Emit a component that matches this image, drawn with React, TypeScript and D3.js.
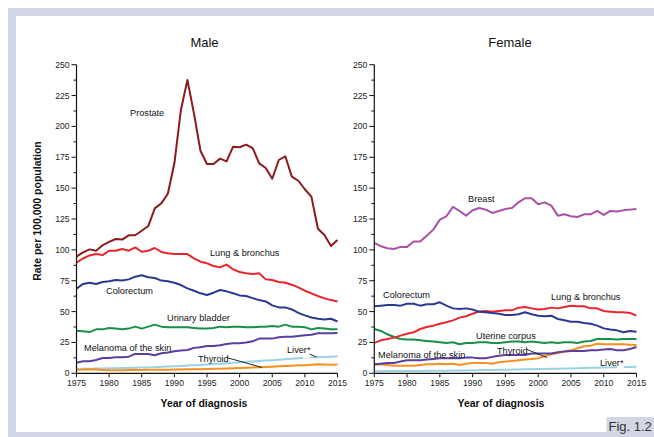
import React from "react";
import * as d3 from "d3";

const years = d3.range(1975, 2016);
const xTickYears = [1975, 1980, 1985, 1990, 1995, 2000, 2005, 2010, 2015];
const yTicks = [0, 25, 50, 75, 100, 125, 150, 175, 200, 225, 250];

const maleProstate = [94.5, 98, 100.4, 99.3, 103.7, 106.4, 108.8, 108.3, 111.8, 111.8, 115.5, 119.3, 133.6, 137.7, 145.5, 170.1, 213.3, 237.6, 210.6, 180.3, 169.6, 169.6, 173.9, 171.7, 183.6, 183.1, 185.2, 182.5, 170.1, 166.3, 157.6, 172.8, 175.8, 159.3, 156.0, 149.1, 143.1, 117.1, 112.0, 103.1, 108.0];
const maleLung = [89.6, 93, 95.5, 96.6, 95.8, 99.3, 99.3, 100.7, 99.3, 102.0, 98.5, 99.3, 101.5, 98.3, 97.2, 96.6, 96.6, 96.6, 93.1, 90.4, 89.1, 86.9, 85.8, 88.0, 84.2, 82.1, 81.0, 80.4, 81.0, 76.1, 75.6, 74.0, 73.4, 71.8, 69.6, 66.9, 64.7, 62.6, 60.7, 59.3, 58.2];
const maleColorectum = [68.5, 72.4, 73.4, 72.4, 74.0, 74.5, 75.6, 75.1, 76.1, 78.3, 79.4, 77.8, 77.2, 75.1, 74.5, 73.4, 71.5, 68.8, 66.9, 64.8, 63.4, 65.3, 67.5, 66.4, 64.8, 63.1, 62.6, 60.9, 59.3, 58.2, 55.0, 53.4, 53.4, 51.7, 49.0, 46.9, 45.2, 44.2, 43.6, 44.2, 42.0];
const maleBladder = [34.5, 34.0, 33.4, 35.6, 35.6, 36.7, 36.2, 35.6, 36.2, 37.8, 36.2, 37.8, 39.4, 37.8, 37.3, 37.3, 37.3, 37.3, 36.7, 36.2, 36.2, 36.7, 37.8, 37.3, 37.8, 37.8, 37.3, 37.3, 37.8, 37.8, 38.3, 37.8, 39.4, 37.8, 37.8, 37.3, 35.6, 36.7, 36.2, 35.6, 35.6];
const maleMelanoma = [8.6, 9.7, 9.7, 10.8, 12.4, 12.4, 13.0, 13.0, 13.5, 15.7, 15.7, 15.7, 14.6, 16.2, 16.8, 17.8, 18.4, 18.9, 20.6, 21.1, 22.2, 22.2, 22.7, 23.8, 24.3, 24.3, 24.9, 25.9, 28.1, 28.1, 28.1, 29.2, 29.7, 29.7, 30.3, 30.8, 31.3, 32.4, 32.4, 32.4, 32.6];
const maleLiver = [3.5, 3.6, 3.7, 3.8, 3.9, 4.0, 4.1, 4.2, 4.3, 4.5, 4.8, 4.8, 5.0, 5.3, 5.5, 5.8, 6.0, 6.3, 6.5, 6.8, 7.2, 7.5, 7.8, 8.2, 8.5, 9.0, 9.3, 9.6, 9.9, 10.3, 10.6, 11.0, 11.4, 11.8, 12.2, 12.6, 12.9, 13.1, 13.3, 13.5, 13.8];
const maleThyroid = [2.9, 3.0, 3.3, 3.0, 2.7, 2.4, 2.4, 2.5, 2.7, 2.8, 2.7, 2.9, 2.9, 2.8, 2.9, 3.0, 3.1, 3.2, 3.3, 3.3, 3.5, 3.6, 3.7, 3.9, 4.1, 4.3, 4.5, 4.7, 4.9, 5.2, 5.4, 5.7, 6.0, 6.2, 6.5, 6.5, 7.0, 7.3, 7.2, 7.0, 7.1];

const femaleBreast = [105.6, 102.9, 101.3, 100.7, 102.4, 102.4, 106.7, 106.7, 111.5, 116.4, 124.5, 127.2, 134.8, 131.5, 127.7, 132.1, 133.9, 132.6, 129.9, 131.5, 133.1, 133.9, 138.5, 141.8, 141.8, 136.9, 138.5, 135.8, 127.7, 128.8, 127.2, 126.6, 128.8, 128.8, 131.5, 128.3, 131.5, 131.0, 132.0, 132.6, 133.1];
const femaleColorectum = [54.3, 54.8, 55.4, 55.4, 54.8, 56.4, 56.4, 54.8, 55.9, 55.9, 57.5, 54.8, 52.6, 52.1, 52.6, 51.6, 49.9, 49.4, 48.9, 48.3, 47.3, 47.3, 47.8, 49.4, 47.8, 46.7, 46.2, 46.7, 44.0, 42.9, 41.8, 41.8, 40.8, 40.2, 38.6, 36.4, 35.4, 34.8, 33.2, 34.3, 33.7];
const femaleLung = [24.6, 26.7, 27.8, 28.9, 30.5, 32.1, 33.2, 35.9, 37.5, 38.6, 40.2, 41.3, 42.9, 45.1, 46.2, 48.3, 50.0, 50.5, 49.9, 50.5, 51.0, 51.0, 53.2, 53.7, 52.6, 51.6, 52.1, 53.2, 52.6, 53.7, 54.8, 54.3, 54.3, 52.6, 52.6, 50.5, 49.9, 49.4, 49.4, 48.9, 46.7];
const femaleUterine = [35.9, 34.3, 31.6, 29.4, 27.8, 27.3, 27.3, 26.7, 26.2, 25.7, 25.1, 24.6, 25.1, 23.5, 24.6, 24.6, 25.1, 25.1, 24.6, 24.6, 25.1, 25.7, 25.7, 25.1, 25.7, 25.1, 24.6, 25.1, 24.6, 25.1, 25.1, 24.6, 25.7, 26.2, 27.8, 27.8, 27.8, 27.3, 27.8, 27.8, 27.8];
const femaleMelanoma = [7.3, 7.8, 8.4, 8.4, 9.5, 10.5, 10.5, 10.5, 11.1, 11.6, 12.2, 12.2, 12.2, 12.2, 12.7, 12.7, 12.2, 12.2, 13.3, 14.3, 14.9, 14.9, 14.9, 14.9, 16.0, 16.0, 16.0, 16.0, 17.0, 17.6, 18.1, 18.1, 18.1, 18.6, 18.6, 19.2, 19.7, 18.6, 18.6, 19.7, 21.3];
const femaleThyroid = [7.0, 7.3, 6.8, 6.2, 6.2, 6.2, 6.2, 6.8, 7.3, 7.3, 7.8, 7.3, 7.8, 6.8, 7.8, 8.4, 8.4, 8.4, 7.8, 8.9, 9.5, 10.0, 10.5, 11.1, 11.6, 12.2, 13.8, 15.4, 16.5, 17.6, 18.6, 20.3, 21.9, 22.4, 24.0, 23.5, 23.5, 23.5, 23.5, 23.2, 22.9];
const femaleLiver = [1.7, 1.7, 1.8, 1.8, 1.8, 1.9, 1.9, 1.9, 2.0, 2.0, 2.1, 2.1, 2.2, 2.3, 2.3, 2.4, 2.5, 2.6, 2.7, 2.8, 2.9, 3.0, 3.1, 3.2, 3.3, 3.4, 3.5, 3.6, 3.7, 3.8, 3.9, 4.1, 4.2, 4.4, 4.5, 4.7, 4.8, 5.0, 5.1, 5.2, 5.3];

const C = {
  prostate: "#8b1a1e",
  lung: "#e8262b",
  colorectum: "#2b3990",
  green: "#17904a",
  melanoma: "#5b3f9e",
  liver: "#98d2e6",
  thyroid: "#f7901e",
  breast: "#a752a8",
};

const FONT = "'Liberation Sans', Arial, Helvetica, sans-serif";
const FRAME = "#d3d6e5";

type Series = { values: number[]; color: string };
type Label = { text: string; x: number; y: number };
type Leader = [number, number, number, number];

type Panel = {
  title: string;
  x0: number;
  x1: number;
  titleX: number;
  xLabelX: number;
  series: Series[];
  labels: Label[];
  leaders: Leader[];
  gaps: [number, number, number][];
};

const panels: Panel[] = [
  {
    title: "Male",
    x0: 76.5,
    x1: 337.5,
    titleX: 204.5,
    xLabelX: 204,
    series: [
      { values: maleLiver, color: C.liver },
      { values: maleThyroid, color: C.thyroid },
      { values: maleMelanoma, color: C.melanoma },
      { values: maleBladder, color: C.green },
      { values: maleColorectum, color: C.colorectum },
      { values: maleLung, color: C.lung },
      { values: maleProstate, color: C.prostate },
    ],
    labels: [
      { text: "Prostate", x: 130, y: 112.3 },
      { text: "Lung & bronchus", x: 210, y: 252.3 },
      { text: "Colorectum", x: 106, y: 291 },
      { text: "Urinary bladder", x: 167, y: 318 },
      { text: "Melanoma of the skin", x: 84, y: 347.7 },
      { text: "Thyroid", x: 198, y: 358.3 },
      { text: "Liver*", x: 287, y: 349.3 },
    ],
    leaders: [
      [226.5, 357.5, 262, 367.5],
      [309.5, 354, 316.5, 357],
    ],
    gaps: [[303, 310, 356.5]],
  },
  {
    title: "Female",
    x0: 374.3,
    x1: 636.5,
    titleX: 510,
    xLabelX: 501,
    series: [
      { values: femaleLiver, color: C.liver },
      { values: femaleThyroid, color: C.thyroid },
      { values: femaleMelanoma, color: C.melanoma },
      { values: femaleUterine, color: C.green },
      { values: femaleLung, color: C.lung },
      { values: femaleColorectum, color: C.colorectum },
      { values: femaleBreast, color: C.breast },
    ],
    labels: [
      { text: "Breast", x: 468, y: 198.3 },
      { text: "Colorectum", x: 383, y: 295 },
      { text: "Lung & bronchus", x: 551, y: 296.7 },
      { text: "Uterine corpus", x: 476, y: 335.7 },
      { text: "Melanoma of the skin", x: 378, y: 354.5 },
      { text: "Thyroid", x: 497, y: 350.7 },
      { text: "Liver*", x: 600, y: 362.3 },
    ],
    leaders: [[527, 349.5, 547, 357.5]],
    gaps: [[617, 624, 366.5]],
  },
];

const Y_TOP = 64.7;
const Y_BOT = 373.3;

function PanelView({ p }: { p: Panel }) {
  const x = d3.scaleLinear().domain([1975, 2015]).range([p.x0, p.x1]);
  const y = d3.scaleLinear().domain([0, 250]).range([Y_BOT, Y_TOP]);
  const line = d3
    .line<number>()
    .x((_, i) => x(years[i]))
    .y((v) => y(v));
  const minor = d3.range(12.5, 250, 25);
  return (
    <g>
      <text x={p.titleX} y={46.5} fontSize={13} textAnchor="middle" fill="#111" fontFamily={FONT}>
        {p.title}
      </text>
      {p.series.map((s, i) => (
        <path key={i} d={line(s.values) || ""} fill="none" stroke={s.color} strokeWidth={2} strokeLinejoin="round" />
      ))}
      {p.gaps.map((g, i) => (
        <line key={i} x1={g[0]} x2={g[1]} y1={g[2]} y2={g[2]} stroke="#fff" strokeWidth={4} />
      ))}
      {p.leaders.map((l, i) => (
        <line key={i} x1={l[0]} y1={l[1]} x2={l[2]} y2={l[3]} stroke="#111" strokeWidth={0.9} />
      ))}
      {p.labels.map((l, i) => (
        <text key={i} x={l.x} y={l.y + 3.3} fontSize={9.2} fill="#111" fontFamily={FONT}>
          {l.text}
        </text>
      ))}
      {/* y axis */}
      <line x1={p.x0} x2={p.x0} y1={Y_TOP} y2={Y_BOT} stroke="#111" strokeWidth={1.2} />
      {yTicks.map((t) => (
        <g key={t}>
          <line x1={p.x0 - 5} x2={p.x0} y1={y(t)} y2={y(t)} stroke="#111" strokeWidth={1} />
          <text x={p.x0 - 7} y={y(t) + 3} fontSize={8.6} textAnchor="end" fill="#222" fontFamily={FONT}>
            {t}
          </text>
        </g>
      ))}
      {minor.map((t) => (
        <line key={t} x1={p.x0 - 3} x2={p.x0} y1={y(t)} y2={y(t)} stroke="#111" strokeWidth={1} />
      ))}
      {/* x axis */}
      <line x1={p.x0} x2={p.x1} y1={Y_BOT} y2={Y_BOT} stroke="#111" strokeWidth={1.2} />
      {xTickYears.map((t) => (
        <g key={t}>
          <line x1={x(t)} x2={x(t)} y1={Y_BOT} y2={Y_BOT + 4} stroke="#111" strokeWidth={1} />
          <text x={x(t)} y={Y_BOT + 13} fontSize={8.6} textAnchor="middle" fill="#222" fontFamily={FONT}>
            {t}
          </text>
        </g>
      ))}
      <text x={p.xLabelX} y={406.5} fontSize={10.5} fontWeight="bold" textAnchor="middle" fill="#111" fontFamily={FONT}>
        Year of diagnosis
      </text>
    </g>
  );
}

export default function App() {
  return (
    <svg
      width={654}
      height={437}
      viewBox="0 0 654 437"
      style={{ position: "absolute", left: 0, top: 0, background: "#fff" }}
    >
      <rect x={0} y={0} width={654} height={437} fill="#fff" />
      <rect x={8} y={8} width={646} height={8} fill={FRAME} />
      <rect x={8} y={8} width={8} height={429} fill={FRAME} />
      <rect x={8} y={432} width={600} height={5} fill={FRAME} />
      <rect x={606.5} y={417} width={47.5} height={20} fill={FRAME} />
      <text x={608.5} y={431} fontSize={13} fill="#333" fontFamily={FONT}>
        Fig. 1.2
      </text>
      <text
        transform="translate(40.5,211) rotate(-90)"
        fontSize={10.5}
        fontWeight="bold"
        textAnchor="middle"
        fill="#111"
        fontFamily={FONT}
      >
        Rate per 100,000 population
      </text>
      {panels.map((p) => (
        <PanelView key={p.title} p={p} />
      ))}
    </svg>
  );
}
